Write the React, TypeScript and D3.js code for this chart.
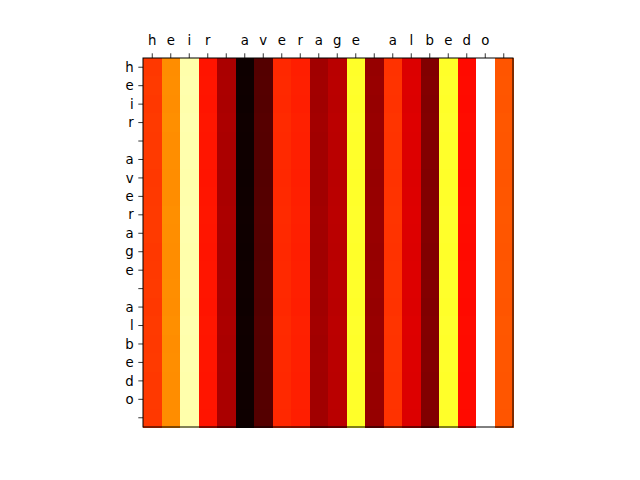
import React from "react";
import * as d3 from "d3";

// characters used as tick labels on both axes (trailing space gives an empty label)
const labels = "heir average albedo ".split("");

// per-column intensity (rows are nearly identical)
const columnValues = [
  0.449, 0.575, 0.916, 0.395, 0.243, 0.02, 0.12, 0.425, 0.41, 0.23,
  0.265, 0.787, 0.215, 0.44, 0.315, 0.185, 0.787, 0.38, 1.0, 0.492,
];

// small row-to-row drift seen in the picture
const rowOffsets = [
  0.0, 0.002, 0.0, 0.003, 0.001, 0.002, 0.0, 0.001, 0.003, 0.002,
  0.0, 0.001, 0.002, 0.0, 0.003, 0.001, 0.002, 0.0, 0.001, 0.0,
];

// matplotlib "hot" colormap
const hot = (t: number) => {
  const c = (v: number) => Math.round(255 * Math.max(0, Math.min(1, v)));
  const r = c(t / 0.365079);
  const g = c((t - 0.365079) / (0.746032 - 0.365079));
  const b = c((t - 0.746032) / (1 - 0.746032));
  return `rgb(${r},${g},${b})`;
};

const App = () => {
  const width = 640;
  const height = 480;
  const margin = { left: 143, top: 58, right: 127, bottom: 53 };
  const plotW = width - margin.left - margin.right;
  const plotH = height - margin.top - margin.bottom;
  const idx = d3.range(labels.length).map(String);

  const x = d3.scaleBand<string>().domain(idx).range([0, plotW]);
  const y = d3.scaleBand<string>().domain(idx).range([0, plotH]);
  const color = (v: number) => hot(Math.min(1, v));

  const cells: { r: number; c: number; v: number }[] = [];
  rowOffsets.forEach((off, r) => {
    columnValues.forEach((v, c) => {
      cells.push({ r, c, v: Math.min(1, v + (v < 1 ? off : 0)) });
    });
  });

  const font = "DejaVu Sans, sans-serif";

  return (
    <svg width={width} height={height} style={{ display: "block", position: "absolute", left: 0, top: 0 }}>
      <rect width={width} height={height} fill="#fff" />
      <g transform={`translate(${margin.left},${margin.top})`}>
        {cells.map((d, i) => (
          <rect
            key={i}
            x={x(String(d.c))}
            y={y(String(d.r))}
            width={x.bandwidth() + 0.5}
            height={y.bandwidth() + 0.5}
            fill={color(d.v)}
            shapeRendering="crispEdges"
          />
        ))}
        <rect width={plotW} height={plotH} fill="none" stroke="#000" strokeWidth={1} />
        {labels.map((ch, i) => {
          const cx = (x(String(i)) ?? 0) + x.bandwidth() / 2;
          return (
            <g key={"x" + i} transform={`translate(${cx},0)`}>
              <line y1={0} y2={-4.7} stroke="#000" strokeWidth={0.8} />
              <text y={-13} textAnchor="middle" fontFamily={font} fontSize={13.3}>
                {ch.trim()}
              </text>
            </g>
          );
        })}
        {labels.map((ch, i) => {
          const cy = (y(String(i)) ?? 0) + y.bandwidth() / 2;
          return (
            <g key={"y" + i} transform={`translate(0,${cy})`}>
              <line x1={0} x2={-4.7} stroke="#000" strokeWidth={0.8} />
              <text x={-9.3} dy="0.35em" textAnchor="end" fontFamily={font} fontSize={13.3}>
                {ch.trim()}
              </text>
            </g>
          );
        })}
      </g>
    </svg>
  );
};

export default App;
